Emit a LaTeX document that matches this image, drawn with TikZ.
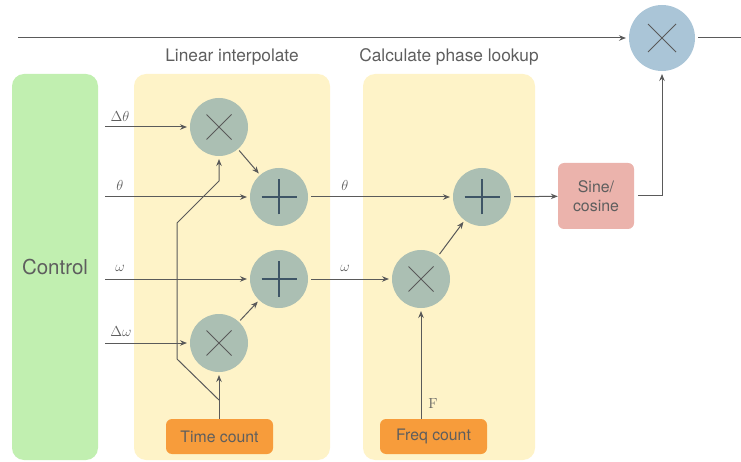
\RequirePackage{fix-cm}
\documentclass[tikz,border=0pt]{standalone}
\usepackage[no-math]{fontspec}
\setmainfont{TeX Gyre Heros}
\usetikzlibrary{arrows.meta}
\definecolor{ctrlgreen}{HTML}{C1EFB0}
\definecolor{stageyellow}{HTML}{FEF3C8}
\definecolor{countorange}{HTML}{F79C3B}
\definecolor{sinepink}{HTML}{EBB3AC}
\definecolor{opgreen}{HTML}{ABBFB3}
\definecolor{opblue}{HTML}{AAC5D7}
\definecolor{plusdark}{HTML}{3E5566}
\definecolor{wire}{HTML}{5A5A5A}
\definecolor{txt}{HTML}{5E5E5E}
\tikzset{
  stagebox/.style={fill=stageyellow, rounded corners=12pt, draw=none},
  op/.style={circle, minimum size=58pt, inner sep=0pt, outer sep=3pt, fill=opgreen, draw=none},
  crosshalf/.store in=\crosshalf, crosshalf=12.5pt,
  mulop/.style={op, path picture={
      \draw[wire, line width=1pt] (path picture bounding box.center) ++(-\crosshalf,-\crosshalf) -- ++(2*\crosshalf,2*\crosshalf);
      \draw[wire, line width=1pt] (path picture bounding box.center) ++(-\crosshalf,\crosshalf) -- ++(2*\crosshalf,-2*\crosshalf);}},
  addop/.style={op, path picture={
      \draw[plusdark, line width=1.8pt] (path picture bounding box.center) ++(-17.5pt,0) -- ++(35pt,0);
      \draw[plusdark, line width=1.8pt] (path picture bounding box.center) ++(0,-17.5pt) -- ++(0,35pt);}},
  countbox/.style={fill=countorange, rounded corners=6pt, minimum width=107pt, minimum height=35pt,
      inner sep=0pt, text=txt, font=\fontsize{15.8}{18}\selectfont},
  wirestyle/.style={draw=wire, line width=1pt},
  arr/.style={wirestyle, -{Stealth[length=7pt,width=5.5pt]}},
  sig/.style={text=txt, font=\fontsize{14.5}{16}\selectfont},
  heading/.style={text=txt, font=\fontsize{17.3}{20}\selectfont},
}
\begin{document}
\begin{tikzpicture}[x=1pt, y=-1pt]
\useasboundingbox (0,0) rectangle (741,462);

% stage backgrounds
\node[fill=ctrlgreen, rounded corners=12pt, minimum width=86pt, minimum height=386pt, inner sep=0pt,
      text=txt, font=\fontsize{20.5}{24}\selectfont] (ctrl) at (55,267) {Control};
\fill[stagebox] (134,74) rectangle (330,460);
\fill[stagebox] (363,74) rectangle (535,460);
\node[heading] (h1) at (232,57) {Linear interpolate};
\node[heading] (h2) at (449,57) {Calculate phase lookup};

% operators
\node[mulop] (m1) at (219,127) {};
\node[addop] (a1) at (279,197) {};
\node[addop] (a2) at (279,279) {};
\node[mulop] (m2) at (219,343) {};
\node[addop] (a3) at (482,197) {};
\node[mulop] (m3) at (421,279) {};
\node[mulop, fill=opblue, minimum size=66pt, crosshalf=14pt] (mo) at (662,38) {};

% count and table blocks
\node[countbox] (tc) at (219.5,436.5) {Time count};
\node[countbox] (fc) at (433.5,436.5) {Freq count};
\node[fill=sinepink, rounded corners=6pt, minimum width=76pt, minimum height=66pt, inner sep=0pt,
      text=txt, align=center, font=\fontsize{15.9}{18.5}\selectfont] (sc) at (596,196) {Sine/\\cosine};

% inputs from the control block
\coordinate (iDt) at (105,127);
\coordinate (iT)  at (105,197);
\coordinate (iW)  at (105,279);
\coordinate (iDw) at (105,343);
\draw[arr] (iDt) -- (m1);
\draw[arr] (iT)  -- (a1);
\draw[arr] (iW)  -- (a2);
\draw[arr] (iDw) -- (m2);
\node[sig] (lDt) at (120,116) {$\Delta\theta$};
\node[sig] (lT)  at (120,185) {$\theta$};
\node[sig] (lW)  at (120,268) {$\omega$};
\node[sig] (lDw) at (121,332) {$\Delta\omega$};

% time count feeds both multipliers
\coordinate (tout) at (219,419);
\coordinate (tj) at (219,400);
\coordinate (b1) at (177,359);
\coordinate (b2) at (177,223);
\coordinate (b3) at (219,181);
\draw[arr] (tout) -- (m2);
\draw[arr] (tj) -- (b1) -- (b2) -- (b3) -- (m1);

% interpolation sums
\draw[arr, shorten <=-1pt, shorten >=-1pt] (m1) -- (a1);
\draw[arr, shorten <=-1pt, shorten >=-1pt] (m2) -- (a2);

% phase lookup
\draw[arr] (a1) -- (a3);
\draw[arr] (a2) -- (m3);
\node[sig] (lT2) at (345,185) {$\theta$};
\node[sig] (lW2) at (345,268) {$\omega$};
\coordinate (fout) at (421,419);
\draw[arr] (fout) -- (m3);
\node[sig] (lF) at (433,404) {$\mathrm{F}$};
\draw[arr, shorten <=-1pt, shorten >=-1pt] (m3) -- (a3);

% table and output mixer
\draw[arr] (a3) -- (sc);
\draw[arr] ([xshift=4pt]sc.east) -| (mo);
\coordinate (cin) at (18,38);
\coordinate (cout) at (741,38);
\draw[arr] (cin) -- (mo);
\draw[wirestyle] (mo) -- (cout);
\end{tikzpicture}
\end{document}
